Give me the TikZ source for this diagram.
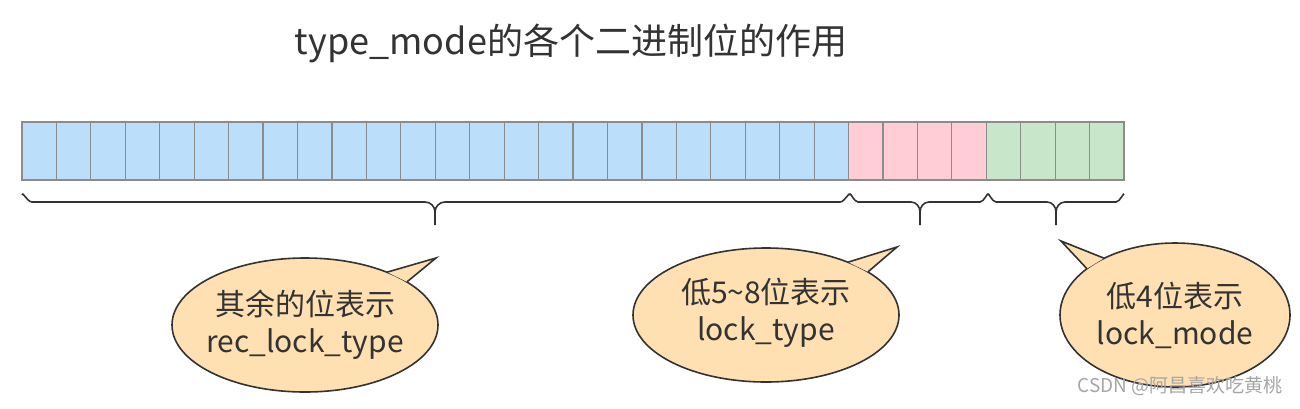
\documentclass[tikz,border=0pt]{standalone}
\usepackage{fontspec}
\setmainfont{Noto Sans CJK SC}
\usetikzlibrary{calc}
\definecolor{cblue}{HTML}{BBDEFA}
\definecolor{cpink}{HTML}{FFCDD5}
\definecolor{cgreen}{HTML}{C8E6CA}
\definecolor{cbub}{HTML}{FFE0B2}
\definecolor{cline}{HTML}{333333}
\tikzset{cell/.style={draw=gray!90,line width=1.2pt},
brace/.style={draw=cline,line width=1.6pt},
bub/.style={fill=cbub},
bubline/.style={draw=cline,line width=1.6pt},
txt/.style={font=\fontsize{30}{37}\selectfont,text=cline,align=center}}
\newcommand{\bubble}[8]{% name cx cy rx ry tip angle1 angle2
\coordinate (#1) at (#2,#3);
\coordinate (#1a) at ($(#1)+(#7:#4 and #5)$);
\coordinate (#1b) at ($(#1)+(#8:#4 and #5)$);
\coordinate (#1t) at #6;
\fill[bub] (#1) ellipse [x radius=#4,y radius=#5];
\fill[bub] (#1t)--(#1a)--(#1b)--cycle;
\draw[bubline,line join=miter] (#1a)--(#1t)--(#1b);
\begin{scope}[even odd rule]
\clip (0,0) rectangle (1300,408) (#1t)--(#1a)--(#1b)--cycle;
\draw[bubline] (#1) ellipse [x radius=#4,y radius=#5];
\end{scope}}
\begin{document}
\begin{tikzpicture}[x=1pt,y=-1pt]
\useasboundingbox (0,0) rectangle (1300,408);
\node[font=\fontsize{36}{42}\selectfont,text=cline] (title) at (571,43) {type\_mode的各个二进制位的作用};
\foreach \i in {0,...,31}{
  \pgfmathsetmacro\xa{22+\i*34.44}
  \pgfmathsetmacro\xb{22+(\i+1)*34.44}
  \ifnum\i<24 \def\cc{cblue}\else\ifnum\i<28 \def\cc{cpink}\else\def\cc{cgreen}\fi\fi
  \path[cell,fill=\cc] (\xa,122) rectangle (\xb,180) node[pos=.5] (c\i) {};
}
% braces
\draw[brace] (22,195) to[out=90,in=180] (32,202) -- (425,202) to[out=0,in=90] (435,212) -- (435,225);
\draw[brace] (850,195) to[out=90,in=0] (840,202) -- (445,202) to[out=180,in=90] (435,212);
\draw[brace] (850,195) to[out=90,in=180] (858,202) -- (911,202) to[out=0,in=90] (920,212) -- (920,225);
\draw[brace] (988,195) to[out=90,in=0] (980,202) -- (929,202) to[out=180,in=90] (920,212);
\draw[brace] (988,195) to[out=90,in=180] (996,202) -- (1047,202) to[out=0,in=90] (1056,212) -- (1056,225);
\draw[brace] (1124,195) to[out=90,in=0] (1116,202) -- (1065,202) to[out=180,in=90] (1056,212);
% bubbles
\bubble{b1}{305}{325}{133}{67}{(436,258)}{-52}{-40}
\bubble{b2}{766}{315}{133}{67}{(897,247)}{-52}{-40}
\bubble{b3}{1175}{315}{115}{72}{(1061,241)}{-128}{-140}
\node[txt] (t1) at (b1) {其余的位表示\\rec\_lock\_type};
\node[txt] (t2) at ([yshift=2]b2) {低5\textasciitilde8位表示\\lock\_type};
\node[txt] (t3) at (b3) {低4位表示\\lock\_mode};
\node[font=\fontsize{19}{21}\selectfont,text=gray!70] (wm) at (1180,386) {CSDN @阿昌喜欢吃黄桃};
\end{tikzpicture}
\end{document}
